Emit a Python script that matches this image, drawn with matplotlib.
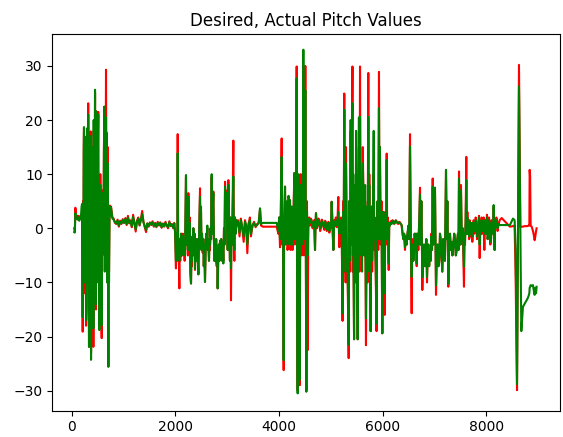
import matplotlib
matplotlib.use("Agg")
import matplotlib.pyplot as plt

title = "Desired, Actual Pitch Values"
x_ticks = [0, 2000, 4000, 6000, 8000]
y_ticks = [-30, -20, -10, 0, 10, 20, 30]

# ---- segment 1: start ----
s1_x = [50, 60, 70, 80, 90, 100, 115, 130, 145, 160, 175, 190]
s1_d = [0.0, -0.5, 3.8, 3.0, 2.0, 2.2, 1.8, 2.3, 1.5, 2.2, 1.9, 2.0]
s1_a = [-0.7, -0.8, 2.8, 2.5, 1.8, 2.0, 1.6, 2.0, 1.4, 2.0, 1.7, 4.0]

# ---- segment 2: first burst ----
s2_x = [200, 207, 212, 218, 225, 232, 237, 243, 248, 253,
        258, 264, 270, 277, 285, 292, 300, 309, 318, 326,
        334, 340, 345, 351, 358, 362, 366, 370, 373, 379,
        385, 390, 395, 400, 405, 412, 418, 424, 430, 440,
        450, 456, 462, 468, 475, 482, 490, 496, 501, 507,
        512, 517, 522, 528, 533, 539, 545, 552, 559, 569,
        579, 585, 590, 594, 598, 606, 615, 622, 630, 637,
        645, 653, 662, 668, 675, 682, 690, 698, 707, 714,
        720, 730, 739, 749, 759]
s2_d = [1.5, -10.0, -19.1, 5.0, -8.0, 15.0, 18.5, -5.0, 15.0, -12.0,
        -2.0, 14.0, 2.0, -18.0, -15.0, 10.0, 18.0, -10.0, 23.1, 0.0,
        -21.9, 5.0, -10.0, 15.0, 12.0, -15.0, 17.9, 0.0, -23.0, 10.0,
        -15.0, 12.0, 0.0, -18.0, -8.0, 15.0, -21.9, 18.0, 5.0, -10.0,
        25.0, -12.0, 4.0, -15.0, 21.6, -10.0, 20.0, 2.0, -5.0, 18.0,
        21.5, -8.0, 8.0, -15.0, -18.0, 5.0, -6.0, 10.0, -1.0, -15.0,
        -20.3, 0.0, -5.0, 2.0, 7.0, -3.0, 3.0, 15.0, 22.0, -5.0,
        15.0, 5.0, 29.3, 10.0, 17.6, -8.0, 0.0, 15.0, -25.5, 4.0,
        -8.0, 3.0, 4.2, 2.5, 4.0]
s2_a = [4.5, -8.0, -16.4, 3.0, -6.0, 14.0, 18.7, -3.0, 17.0, -10.0,
        0.0, 12.0, 1.0, -17.0, -14.0, 12.0, 18.5, -8.0, 21.0, 2.0,
        -21.9, 8.0, -12.0, 14.0, 10.0, -14.0, 17.0, -5.0, -24.3, 8.0,
        -17.0, 15.0, 2.0, -16.0, -10.0, 12.0, -18.5, 20.0, 3.0, -8.0,
        25.6, -10.0, 8.0, -14.0, 21.6, -8.0, 21.0, 0.0, -3.0, 16.0,
        21.0, -6.0, 5.0, -13.0, -18.8, 3.0, -8.0, 8.0, -2.0, -12.0,
        -17.9, 2.0, -4.0, 1.0, 6.5, -4.0, 2.0, 14.0, 22.5, -8.0,
        18.0, 3.0, 20.5, 5.0, 17.6, -10.0, 2.0, 12.0, -25.6, 2.0,
        -10.0, 3.0, 4.0, 2.3, 3.8]

# ---- segment 3: quiet ----
s3_x = [785, 810, 835, 860, 885, 910, 935, 960, 985, 1010,
        1035, 1060, 1085, 1110, 1135, 1160, 1185, 1210, 1235, 1260,
        1285, 1310, 1335, 1360, 1385, 1410, 1435, 1460, 1485, 1510,
        1535, 1560, 1585, 1610, 1635, 1660, 1685, 1710, 1735, 1760,
        1785, 1810, 1835, 1860, 1885, 1910, 1935, 1960, 1980, 1995]
s3_d = [2.0, 1.8, 1.0, 0.8, 1.6, 0.3, 1.4, 0.8, 1.7, 1.0,
        1.9, 0.6, 2.3, 0.9, 1.5, 0.2, 2.5, 1.0, -0.6, 1.4,
        2.0, 0.5, 1.7, 3.2, 1.2, 0.2, -0.7, 0.9, 0.3, 1.1,
        0.6, 1.3, 0.3, 1.0, 0.2, 1.2, 0.5, 1.1, 0.1, 0.9,
        0.3, 1.2, 0.5, 0.0, 1.3, 0.4, 0.8, 0.0, 1.0, -0.8]
s3_a = [1.8, 1.6, 1.1, 0.9, 1.4, 0.5, 1.2, 0.9, 1.5, 1.0,
        1.7, 0.8, 2.0, 1.0, 1.3, 0.4, 2.1, 1.0, -0.2, 1.2,
        1.8, 0.6, 1.5, 2.6, 1.1, 0.4, -0.3, 0.9, 0.4, 1.0,
        0.7, 1.1, 0.4, 0.9, 0.3, 1.0, 0.6, 1.0, 0.2, 0.8,
        0.4, 1.0, 0.5, 0.2, 1.1, 0.5, 0.7, 0.1, 0.9, -0.5]

# ---- segment 4: second burst ----
s4_x = [2012, 2020, 2030, 2038, 2046, 2055, 2062, 2070, 2078, 2086,
        2095, 2104, 2112, 2120, 2128, 2136, 2145, 2155, 2168, 2180,
        2190, 2206, 2215, 2222, 2232, 2242, 2252, 2262, 2271, 2280,
        2290, 2303, 2312, 2320, 2329, 2338, 2348, 2360, 2370, 2380,
        2390, 2400, 2412, 2422, 2432, 2445, 2455, 2465, 2477, 2485,
        2496, 2505, 2515, 2528, 2540, 2550, 2560, 2573, 2585, 2595,
        2606, 2618, 2628, 2638, 2650, 2660, 2670, 2680, 2690, 2702,
        2712, 2722, 2734, 2745, 2755, 2766, 2778, 2788, 2799, 2808,
        2818, 2830, 2840, 2852, 2863, 2875, 2885, 2895, 2905, 2915,
        2927, 2940, 2950, 2960, 2970, 2980, 2992, 3002, 3012, 3024,
        3034, 3043, 3055, 3065, 3075, 3085, 3095, 3105, 3120, 3130,
        3140, 3152, 3165, 3175, 3185]
s4_d = [-7.4, -1.0, -3.0, -6.0, 17.4, -5.0, -2.0, -6.0, -11.1, -2.0,
        -6.0, -3.0, -1.0, -5.0, -2.0, -5.0, -1.0, -4.0, -2.0, -6.0,
        -2.0, 9.5, -3.0, 3.0, 2.0, -5.0, 6.5, -2.0, -5.0, 2.0,
        -8.0, -10.2, -4.0, -7.0, -2.0, -5.0, 0.0, -4.0, -1.0, -7.7,
        -2.0, -3.0, -6.0, -2.0, -5.0, -8.5, -3.0, 2.0, 7.4, -2.0,
        3.0, -4.0, -1.0, -4.5, -2.0, -7.0, -3.0, -9.9, -4.0, -1.0,
        -3.0, 0.0, -4.0, -2.0, -6.0, -2.0, -4.0, 0.0, -2.0, 9.5,
        -1.0, 3.0, 6.8, -2.0, -6.0, -3.2, -6.0, -2.0, -7.0, -4.0,
        -11.1, -5.0, -3.0, -6.0, -2.3, -5.0, -2.0, -3.0, -6.0, -3.0,
        -6.0, 0.0, -3.0, 8.6, 2.0, 7.0, 6.0, 0.0, -4.0, 8.9,
        2.0, 0.0, -6.0, 2.0, -13.3, 0.0, -3.0, 3.0, 16.2, -2.0,
        -6.0, 2.0, -1.0, 1.5, 0.5]
s4_a = [-6.0, -1.0, -2.5, -5.0, 13.9, -4.0, -2.0, -5.0, -6.0, -2.0,
        -5.0, -3.0, -1.0, -5.0, -2.0, -4.5, -1.5, -4.0, -2.5, -5.0,
        -2.0, 9.85, -3.0, 2.0, 1.0, -4.0, 5.8, -2.0, -4.0, 1.0,
        -8.0, -10.2, -4.0, -6.0, -1.5, -5.0, 0.0, -4.0, -1.0, -7.5,
        -2.0, -3.5, -6.0, -2.0, -5.0, -8.5, -3.0, 1.0, 5.8, -2.0,
        4.0, -4.0, -1.0, -3.5, -2.0, -7.0, -3.0, -9.9, -4.0, -1.0,
        -3.0, 0.5, -4.0, -2.5, -6.0, -2.0, -3.0, 0.0, -2.0, 10.0,
        -1.0, 3.0, 6.5, -2.0, -6.0, -3.2, -6.0, -2.0, -6.5, -4.0,
        -11.1, -5.0, -3.0, -6.0, -2.3, -5.0, -2.0, -3.0, -6.0, -3.0,
        -6.5, 0.0, -3.0, 7.7, 2.0, 6.0, 6.5, 0.0, -4.0, 8.0,
        2.0, -1.0, -6.0, 2.0, -7.4, 0.0, -3.0, 3.0, 9.6, -1.0,
        -4.0, 2.0, -1.0, 1.5, 0.5]

# ---- segment 5: quiet + gap ----
s5_x = [3210, 3240, 3265, 3290, 3320, 3345, 3370, 3390, 3415, 3440,
        3460, 3490, 3520, 3550, 3580, 3610, 3635, 3655, 3690, 3957]
s5_d = [1.5, -1.5, 1.8, 0.2, -2.5, 1.5, 0.3, -4.6, 0.8, 2.0,
        -1.5, 0.5, 1.2, 0.2, 0.8, 1.0, 3.5, 0.5, 0.3, 0.3]
s5_a = [1.2, -0.8, 1.5, 0.3, -1.5, 1.2, 0.5, -3.0, 0.8, 1.5,
        -1.0, 0.5, 1.0, 0.4, 0.6, 1.0, 3.7, 0.8, 1.0, 1.0]

# ---- segment 6: third burst ----
s6_x = [3989, 4005, 4021, 4035, 4053, 4063, 4073, 4082, 4092, 4100,
        4110, 4118, 4128, 4137, 4147, 4156, 4166, 4176, 4186, 4195,
        4205, 4214, 4224, 4234, 4244, 4253, 4262, 4272, 4285, 4298,
        4308, 4317, 4330, 4343, 4352, 4362, 4371, 4381, 4391, 4401,
        4414, 4427, 4440, 4452, 4462, 4472, 4481, 4491, 4500, 4510,
        4520, 4530, 4542, 4555, 4568, 4584, 4600, 4616, 4633, 4649,
        4665, 4681, 4697, 4706, 4716, 4732, 4748, 4764, 4780, 4796,
        4813, 4829, 4845, 4861, 4877, 4893, 4909, 4925, 4941, 4957,
        4974, 4990, 5005, 5019, 5035, 5051, 5067, 5083, 5099, 5115,
        5131, 5147, 5157, 5167, 5183, 5199, 5212]
s6_d = [-1.0, 2.0, -3.5, 1.0, 16.6, -3.0, 0.0, -5.0, -26.2, 0.0,
        4.0, 7.7, -3.0, -2.0, 3.0, 4.0, -4.0, -3.0, 5.0, 3.0,
        -2.0, 5.2, -4.0, -2.0, 4.0, 2.0, -4.0, -1.5, 4.0, 10.2,
        -3.0, 0.0, 5.0, 29.9, -5.0, -30.0, 8.0, 0.0, -10.0, -29.0,
        10.0, 5.0, -5.0, 8.0, -2.0, 30.0, -5.0, 10.0, -3.0, 30.0,
        -5.0, -30.0, 5.0, -22.5, 1.0, 2.0, 0.5, 1.8, 1.5, 0.0,
        0.3, 1.5, -4.0, 0.5, 2.8, 0.0, 0.5, 1.8, 1.5, -0.5,
        0.2, 1.6, 1.3, 0.2, -0.3, 1.4, 1.0, -0.5, 0.2, 1.2,
        -0.8, 1.0, 0.0, 4.9, 0.5, -4.0, 1.5, 0.5, 2.0, 0.2,
        1.5, 5.8, 0.0, -3.5, 1.0, 2.0, 0.0]
s6_a = [-0.5, 2.0, -2.0, 2.0, 13.2, -2.0, 2.0, -3.0, -24.4, 1.0,
        5.0, 7.7, -2.0, -1.0, 4.0, 5.0, -3.0, -2.0, 6.0, 3.5,
        -1.0, 5.2, -3.0, -1.5, 4.0, 3.0, -3.0, -2.0, 3.0, 10.2,
        -2.0, -1.0, 8.0, 27.7, -5.0, -30.5, 10.0, 2.0, -8.0, -28.0,
        8.0, 4.0, -3.0, 10.0, 0.0, 33.0, -2.0, 8.0, 0.0, 25.5,
        -5.0, -30.2, 3.0, -5.0, 1.0, 1.8, 1.0, 1.5, 1.2, 0.3,
        0.8, 1.2, -4.0, 0.5, 2.8, 0.3, 0.8, 1.5, 1.0, 0.0,
        0.5, 1.3, 1.0, 0.4, 0.2, 1.2, 0.6, -0.2, 0.5, 1.0,
        -0.5, 0.8, 0.3, 4.9, 0.5, -4.0, 1.2, 0.5, 1.5, 0.6,
        1.0, 3.0, 0.5, -1.0, 0.8, 1.5, 0.5]

# ---- segment 7: fourth burst ----
s7_x = [5229, 5240, 5250, 5262, 5270, 5280, 5288, 5295, 5303, 5310,
        5328, 5347, 5356, 5365, 5375, 5385, 5395, 5405, 5420, 5428,
        5435, 5443, 5451, 5460, 5470, 5480, 5490, 5505, 5521, 5532,
        5545, 5555, 5566, 5578, 5590, 5605, 5620, 5635, 5650, 5665,
        5681, 5690, 5700, 5712, 5726, 5735, 5745, 5758, 5772, 5781,
        5790, 5800, 5810, 5820, 5830, 5840, 5850, 5868, 5885, 5895,
        5905, 5918, 5932, 5941, 5950, 5965, 5980, 5996, 6008, 6020,
        6030, 6042, 6050, 6060, 6070, 6081, 6090, 6100, 6110, 6120,
        6130, 6140, 6158]
s7_d = [-17.1, 5.0, -5.0, 24.9, -8.0, 8.0, -10.0, 15.0, 3.0, -5.0,
        -10.0, -24.0, 5.0, 0.0, -8.0, 18.0, -3.0, 10.0, 29.9, -8.0,
        5.0, -10.0, -20.5, 8.0, 5.0, -10.0, 15.0, -5.0, -20.5, 5.0,
        10.0, -8.0, 29.9, -5.0, 5.0, -5.0, 15.0, 3.0, -5.0, 5.0,
        -21.6, -5.0, 0.0, -10.0, 28.7, -3.0, 10.0, -5.0, -19.0, 2.0,
        4.0, -8.0, 0.0, 5.0, 10.0, -4.0, 0.0, -8.0, -19.0, 2.0,
        5.0, -4.0, 28.9, 3.0, 15.0, -3.0, 5.0, -19.4, 3.0, -5.0,
        3.0, -16.0, -2.0, 2.0, -3.0, 13.8, -2.0, 2.0, -2.0, -7.7,
        1.0, 0.5, 1.3]
s7_a = [-15.7, 3.0, -3.0, 21.9, -5.0, 10.0, -8.0, 12.0, 5.0, -5.0,
        -8.0, -21.5, 5.0, 3.0, -6.0, 20.0, -3.0, 15.0, 23.1, -5.0,
        10.0, -8.0, -20.5, 8.0, 6.0, -8.0, 18.0, -5.0, -20.5, 5.0,
        20.5, -5.0, 20.6, -3.0, 5.0, -8.0, 12.0, 3.0, -5.0, 8.0,
        -16.6, -5.0, 4.0, -8.0, 20.6, 0.0, 8.0, -3.0, -19.0, 2.0,
        4.0, -6.0, -2.0, 8.0, 18.0, -2.0, 2.0, -6.0, -17.6, 0.0,
        5.0, -2.0, 22.2, 3.0, 15.0, -2.0, 3.0, -19.4, 3.0, -5.0,
        2.0, -12.0, 0.0, 3.0, -2.0, 12.6, -2.0, 1.0, -2.0, -6.5,
        1.0, 0.5, 1.0]

# ---- segment 8: fifth burst ----
s8_x = [6177, 6193, 6209, 6225, 6241, 6257, 6273, 6290, 6306, 6322,
        6338, 6354, 6370, 6386, 6402, 6418, 6434, 6450, 6466, 6482,
        6499, 6515, 6531, 6547, 6563, 6572, 6582, 6595, 6608, 6621,
        6634, 6647, 6660, 6676, 6692, 6708, 6724, 6737, 6750, 6760,
        6769, 6785, 6801, 6817, 6833, 6846, 6859, 6872, 6885, 6900,
        6917, 6930, 6943, 6956, 6969, 6982, 6994, 7004, 7013, 7023,
        7033, 7049, 7065, 7080, 7097, 7110, 7123, 7140, 7155, 7170,
        7187, 7205, 7226, 7240, 7252, 7262, 7271, 7287, 7303, 7320,
        7335, 7350, 7367, 7384, 7400, 7416, 7432, 7445, 7457, 7467,
        7477, 7486, 7496, 7505, 7515, 7530, 7548, 7560]
s8_d = [1.0, 1.5, 1.2, 0.8, 1.0, 1.5, 1.3, 0.9, 0.8, 1.2,
        1.1, 0.8, 0.5, -1.0, -2.0, -1.0, -4.0, -1.5, -3.0, -1.0,
        0.0, -2.0, 17.4, -2.0, -15.7, -4.0, -2.0, -6.0, -5.0, -1.0,
        -3.0, -1.0, -7.0, -1.0, -4.0, 1.0, 7.5, -3.0, 5.0, -2.0,
        -11.4, -4.0, -3.0, -7.0, -6.0, -2.0, -10.0, -5.0, -3.0, -7.0,
        -4.0, -6.0, -1.0, -4.0, 9.2, -3.0, 3.0, -2.0, 7.5, -2.0,
        -12.3, -5.0, -3.0, -7.0, -6.0, -1.0, -2.0, -5.0, -8.0, -2.0,
        -3.0, -6.0, 10.5, -2.0, 5.0, -3.0, -10.8, -3.0, -1.0, -4.0,
        -2.5, -5.0, -3.0, -1.0, -2.0, -5.0, -4.0, -2.0, -1.0, -4.0,
        10.5, -1.0, 3.0, -3.0, 8.0, -2.0, 0.0, -5.0]
s8_a = [0.8, 1.3, 1.2, 0.9, 1.3, 1.4, 1.1, 1.0, 1.0, 1.1,
        0.9, 0.8, 0.6, -0.8, -2.0, -1.0, -3.5, -1.5, -3.0, -1.0,
        0.5, -2.0, 15.1, -2.0, -9.0, -4.0, -3.0, -6.0, -5.0, -1.0,
        -2.0, -1.0, -6.5, -1.0, -3.0, 1.0, 6.2, -3.0, 5.0, -2.0,
        -9.0, -4.0, -3.0, -7.0, -6.0, -2.0, -9.0, -5.0, -3.0, -7.0,
        -4.0, -6.0, -1.5, -4.0, 7.7, -3.0, 5.0, -2.0, 7.5, -2.0,
        -10.5, -5.0, -3.0, -7.0, -5.0, -1.0, -2.0, -5.0, -8.0, -2.0,
        -3.0, -6.0, 10.8, -2.0, 5.0, -3.0, -10.2, -3.0, -1.0, -4.0,
        -2.5, -5.0, -3.5, -1.0, -2.0, -5.0, -4.0, -2.0, -1.0, -4.0,
        9.2, -1.0, 4.0, -3.0, 7.0, -2.0, 0.0, -3.0]

# ---- segment 9 ----
s9_x = [7573, 7583, 7593, 7605, 7618, 7628, 7638, 7650, 7663, 7673,
        7683, 7700, 7715, 7725, 7734, 7748, 7760, 7772, 7786, 7798,
        7811, 7824, 7837, 7850, 7863, 7876, 7889, 7902, 7914, 7927,
        7940, 7953, 7966, 7975, 7985, 8000, 8017, 8030, 8043, 8056,
        8069, 8082, 8095, 8108, 8120, 8133, 8146, 8155, 8165, 8175,
        8185, 8198, 8210, 8222, 8236]
s9_d = [-10.8, -2.0, -3.0, 2.0, 13.2, -1.0, 3.0, -1.0, 0.5, -2.0,
        1.5, -1.5, -1.0, 1.0, -2.5, 0.0, 1.5, -1.0, -0.5, 2.0,
        1.5, -2.0, 0.5, -1.0, 2.3, -5.5, 0.0, -1.0, 2.0, -1.0,
        -0.5, 2.0, -4.0, 0.0, 1.5, -1.0, 2.5, -2.0, -1.0, 2.0,
        1.0, -3.0, -2.0, 1.5, 1.0, -1.0, 4.0, 0.0, -4.0, 1.0,
        0.5, 2.0, 1.5, -0.5, 0.5]
s9_a = [-7.1, -1.0, -2.0, 1.0, 8.9, -1.0, 2.0, -1.0, 0.5, -1.5,
        1.2, -1.0, -1.0, 1.0, -1.5, 0.0, 1.0, -0.5, 0.0, 1.5,
        1.3, -1.5, 0.5, -0.5, 2.0, -3.0, 0.5, -0.5, 1.5, -0.5,
        0.0, 1.5, -1.0, 0.0, 1.0, -1.0, 2.0, -2.0, -1.0, 1.5,
        1.0, -2.5, -2.0, 1.0, 0.5, -1.0, 4.3, 0.0, -4.0, 1.0,
        0.5, 1.5, 1.0, 0.0, 0.8]

# ---- segment 10: end ----
s10_x = [8262, 8300, 8460, 8519, 8551, 8571, 8597, 8635, 8661, 8680,
         8700, 8712, 8740, 8770, 8800, 8820, 8835, 8841, 8850, 8860,
         8880, 8905, 8920, 8937, 8950, 8965, 8975]
s10_d = [1.5, 1.9, 0.3, 0.4, 0.5, -9.6, -29.9, 30.2, 0.3, 0.3,
         0.3, 0.3, 0.4, 0.4, 0.4, 0.5, 0.5, 10.8, 9.5, 0.5,
         0.3, -0.5, -1.2, -2.2, -1.5, -0.5, 0.0]
s10_a = [0.6, 0.6, 0.6, 1.8, 1.5, -4.0, -28.8, 26.2, 0.0, -19.0,
         -16.0, -14.5, -14.0, -13.5, -13.0, -12.5, -12.0, -11.0, -10.8, -10.5,
         -10.6, -10.5, -11.5, -12.3, -11.0, -12.0, -10.8]

idx = s1_x + s2_x + s3_x + s4_x + s5_x + s6_x + s7_x + s8_x + s9_x + s10_x
desired = s1_d + s2_d + s3_d + s4_d + s5_d + s6_d + s7_d + s8_d + s9_d + s10_d
actual = s1_a + s2_a + s3_a + s4_a + s5_a + s6_a + s7_a + s8_a + s9_a + s10_a

fig = plt.figure(figsize=(5.63, 4.37), dpi=100)
ax = fig.add_axes([52.3 / 563, (437 - 410.7) / 437, (559.7 - 52.3) / 563, (410.7 - 34) / 437])
ax.plot(idx, desired, color="red")
ax.plot(idx, actual, color="green")
ax.set_title(title)
ax.set_xlim(-375, 9421)
ax.set_ylim(-33.7, 35.9)
ax.set_xticks(x_ticks)
ax.set_yticks(y_ticks)
fig.savefig("out.png", dpi=100)
